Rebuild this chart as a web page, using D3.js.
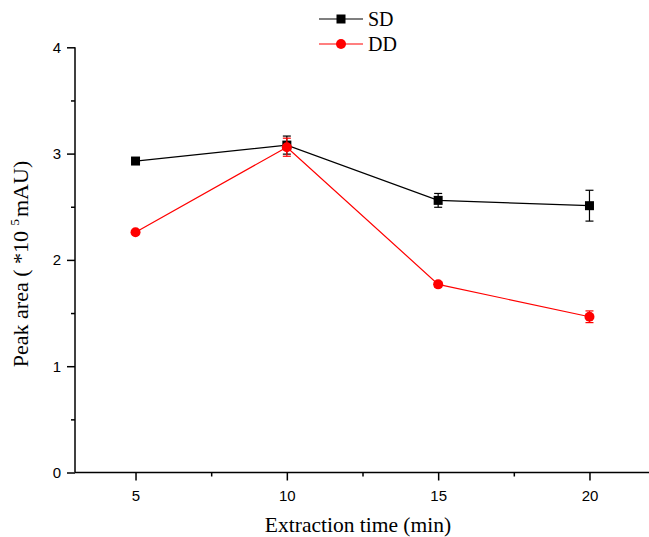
<!DOCTYPE html>
<html>
<head>
<meta charset="utf-8">
<script src="https://cdn.jsdelivr.net/npm/d3@7"></script>
<style>
  body { margin: 0; background: #fff; }
</style>
</head>
<body>
<div id="chart"></div>
<script>
// data
const times = [5, 10, 15, 20];
const sdValues = [2.93, 3.08, 2.56, 2.51];
const sdErrors = [0.0, 0.085, 0.065, 0.145];
const ddValues = [2.26, 3.06, 1.77, 1.465];
const ddErrors = [0.0, 0.085, 0.025, 0.055];
const xTicks = [5, 10, 15, 20];
const yTicks = [0, 1, 2, 3, 4];

const W = 649, H = 537;

const svg = d3.select("#chart").append("svg")
  .attr("width", W)
  .attr("height", H);

const x = d3.scaleLinear().domain([3, 22]).range([75, 650]);
const y = d3.scaleLinear().domain([0, 4]).range([472.5, 47.3]);

// minor ticks
const xMinor = d3.range(7.5, 21, 5);
const yMinor = d3.range(0.5, 4, 1);

const axisG = svg.append("g");

// x axis
axisG.append("g")
  .attr("transform", "translate(0," + y(0) + ")")
  .call(d3.axisBottom(x).tickValues(xTicks).tickSize(8).tickPadding(10).tickFormat(d3.format("d")))
  .call(g => g.select(".domain").attr("d", "M" + x(3) + ",0H" + x(22)))
  .call(g => g.selectAll("text").attr("font-family", "Liberation Sans, Arial, sans-serif").attr("font-size", 15).attr("fill", "#000"));
axisG.append("g")
  .attr("transform", "translate(0," + y(0) + ")")
  .call(d3.axisBottom(x).tickValues(xMinor).tickSize(4).tickFormat(""))
  .call(g => g.select(".domain").remove());

// y axis
axisG.append("g")
  .attr("transform", "translate(" + x(3) + ",0)")
  .call(d3.axisLeft(y).tickValues(yTicks).tickSize(8).tickPadding(6).tickFormat(d3.format("d")))
  .call(g => g.select(".domain").attr("d", "M0," + y(0) + "V" + y(4)))
  .call(g => g.selectAll("text").attr("font-family", "Liberation Sans, Arial, sans-serif").attr("font-size", 15).attr("fill", "#000"));
axisG.append("g")
  .attr("transform", "translate(" + x(3) + ",0)")
  .call(d3.axisLeft(y).tickValues(yMinor).tickSize(4).tickFormat(""))
  .call(g => g.select(".domain").remove());

axisG.selectAll("path, line").attr("stroke", "#000").attr("stroke-width", 1.5);

// series
const series = [
  { name: "SD", values: sdValues, errors: sdErrors, color: "#000", shape: "square" },
  { name: "DD", values: ddValues, errors: ddErrors, color: "#ff0000", shape: "circle" }
];

const line = d3.line().x(d => x(d.t)).y(d => y(d.v));

series.forEach(s => {
  const pts = times.map((t, i) => ({ t: t, v: s.values[i], e: s.errors[i] }));
  const g = svg.append("g");
  g.append("path")
    .datum(pts)
    .attr("d", line)
    .attr("fill", "none")
    .attr("stroke", s.color)
    .attr("stroke-width", 1.2);

  const eb = g.selectAll(".eb").data(pts.filter(d => d.e > 0)).enter().append("g");
  eb.append("line")
    .attr("x1", d => x(d.t)).attr("x2", d => x(d.t))
    .attr("y1", d => y(d.v + d.e)).attr("y2", d => y(d.v - d.e));
  eb.append("line")
    .attr("x1", d => x(d.t) - 4).attr("x2", d => x(d.t) + 4)
    .attr("y1", d => y(d.v + d.e)).attr("y2", d => y(d.v + d.e));
  eb.append("line")
    .attr("x1", d => x(d.t) - 4).attr("x2", d => x(d.t) + 4)
    .attr("y1", d => y(d.v - d.e)).attr("y2", d => y(d.v - d.e));
  eb.selectAll("line").attr("stroke", s.color).attr("stroke-width", 1.2);

  if (s.shape === "square") {
    g.selectAll(".m").data(pts).enter().append("rect")
      .attr("x", d => x(d.t) - 4.5).attr("y", d => y(d.v) - 4.5)
      .attr("width", 9).attr("height", 9)
      .attr("fill", s.color);
  } else {
    g.selectAll(".m").data(pts).enter().append("circle")
      .attr("cx", d => x(d.t)).attr("cy", d => y(d.v))
      .attr("r", 5)
      .attr("fill", s.color);
  }
});

// legend
const legend = svg.append("g").attr("font-family", "Liberation Serif, Times New Roman, serif").attr("font-size", 20);
series.forEach((s, i) => {
  const ly = 19 + i * 25;
  legend.append("line")
    .attr("x1", 319).attr("x2", 363).attr("y1", ly).attr("y2", ly)
    .attr("stroke", s.color).attr("stroke-width", 1.2);
  if (s.shape === "square") {
    legend.append("rect").attr("x", 341 - 4.5).attr("y", ly - 4.5).attr("width", 9).attr("height", 9).attr("fill", s.color);
  } else {
    legend.append("circle").attr("cx", 341).attr("cy", ly).attr("r", 5).attr("fill", s.color);
  }
  legend.append("text").attr("x", 368).attr("y", ly + 7).attr("fill", "#000").text(s.name);
});

// axis titles
svg.append("text")
  .attr("x", 358).attr("y", 532)
  .attr("text-anchor", "middle")
  .attr("font-family", "Liberation Serif, Times New Roman, serif")
  .attr("font-size", 21.5)
  .text("Extraction time (min)");

const yt = svg.append("text")
  .attr("transform", "translate(28,264) rotate(-90)")
  .attr("text-anchor", "middle")
  .attr("font-family", "Liberation Serif, Times New Roman, serif")
  .attr("font-size", 22);
yt.append("tspan").text("Peak area ( *10 ");
yt.append("tspan").attr("dy", -9).attr("font-size", 13).text("5");
yt.append("tspan").attr("dy", 9).attr("dx", 2).text("mAU)");
</script>
</body>
</html>
